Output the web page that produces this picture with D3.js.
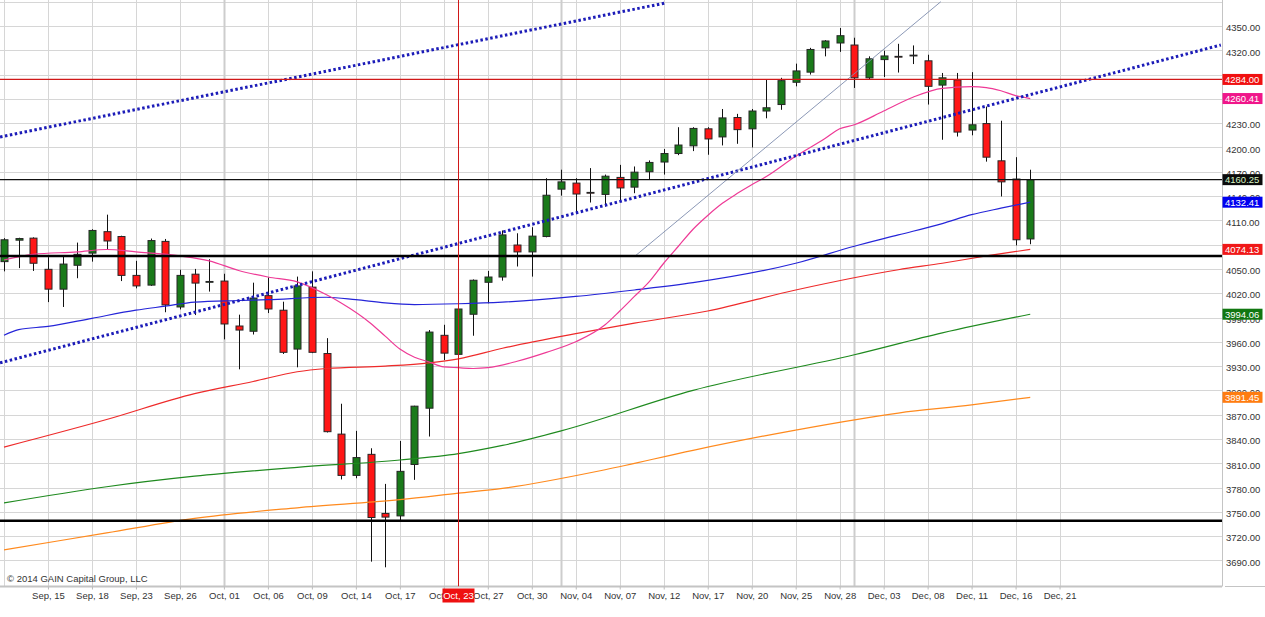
<!DOCTYPE html>
<html>
<head>
<meta charset="utf-8">
<script src="https://cdn.jsdelivr.net/npm/d3@7/dist/d3.min.js"></script>
<style>
  body { margin: 0; background: #fff; }
  svg { display: block; font-family: 'Liberation Sans', Arial, sans-serif; }
</style>
</head>
<body>
<svg id="chart" width="1265" height="617"></svg>
<script>
/* global d3: false */

// daily sessions, Sep 10 .. Dec 17 (index 0 .. 70)
const opens = [
  4059, 4085.5, 4088, 4049.5, 4025, 4054.5, 4069.5, 4096, 4090, 4042,
  4030, 4084, 4003, 4043.5, 4033.5, 4035, 3979.5, 3973, 4017, 3999,
  3951, 4027.5, 3945.5, 3846, 3795, 3821, 3748, 3745, 3808.5, 3878,
  3968, 3944.5, 3994, 4033.5, 4040, 4079.5, 4071, 4090, 4148.5, 4156,
  4144.5, 4142, 4163, 4151, 4170, 4182, 4192.5, 4202, 4223, 4213,
  4237, 4223, 4245, 4253, 4280.5, 4293, 4323, 4329, 4326.5, 4286,
  4308.5, 4312.5, 4314, 4307, 4277, 4283.5, 4221.5, 4229.5, 4183.5, 4161,
  4087];
const highs = [
  4088, 4088.5, 4089, 4064.5, 4065, 4082.5, 4099, 4117, 4091, 4060,
  4087.5, 4087, 4049, 4050, 4062, 4044, 3993.5, 4033, 4039.5, 4009.5,
  4040.5, 4047, 3964.5, 3883.5, 3850, 3828.5, 3784.5, 3837.5, 3881, 3974.5,
  3981, 4001, 4037, 4047.5, 4097.5, 4094, 4101.5, 4162, 4172.5, 4162,
  4174.5, 4166.5, 4178.5, 4176.5, 4184, 4198, 4225, 4225, 4225, 4247.5,
  4241.5, 4247.5, 4283.5, 4286, 4303.5, 4323, 4332.5, 4347.5, 4335.5, 4312.5,
  4319.5, 4328, 4326, 4314.5, 4292, 4292, 4293, 4250.5, 4233, 4188,
  4172.5];
const lows = [
  4047, 4051, 4047.5, 4009, 4003, 4038.5, 4059, 4073.5, 4035, 4026,
  4029, 3996.5, 4000, 3993, 4022, 3963, 3926, 3969, 3995.5, 3945,
  3928.5, 3946, 3848, 3790, 3791.5, 3688.5, 3681.5, 3740, 3789.5, 3843,
  3937.5, 3944, 3967.5, 4007.5, 4035.5, 4053, 4040.5, 4089, 4140.5, 4118,
  4132, 4127, 4134.5, 4143.5, 4161, 4166.5, 4190.5, 4195.5, 4191, 4202.5,
  4204.5, 4200, 4236, 4246.5, 4275.5, 4290, 4312.5, 4318, 4273.5, 4284.5,
  4287, 4292.5, 4303, 4253, 4209.5, 4213.5, 4215, 4182.5, 4139.5, 4079,
  4080.5];
const closes = [
  4086, 4087.5, 4057, 4025, 4056, 4068, 4097.5, 4084.5, 4042, 4029,
  4085, 4005.5, 4042, 4032.5, 4034.5, 3982, 3974.5, 4014, 4000.5, 3947,
  4029, 3947, 3849, 3795, 3817, 3743, 3743.5, 3800, 3880.5, 3972,
  3946, 4000.5, 4036, 4040, 4092, 4071, 4090.5, 4141, 4157.5, 4142.5,
  4144, 4164.5, 4150, 4169.5, 4181.5, 4192.5, 4203, 4223.5, 4210.5, 4236.5,
  4222, 4245, 4249, 4282.5, 4294.5, 4321, 4331.5, 4338, 4286, 4309.5,
  4313, 4312, 4313.5, 4275.5, 4286, 4219, 4228, 4188, 4157.5, 4086,
  4160.25];

// every third session from index 3; the last one is beyond the data
const tickLabels = [
  'Sep, 15', 'Sep, 18', 'Sep, 23', 'Sep, 26', 'Oct, 01', 'Oct, 06', 'Oct, 09',
  'Oct, 14', 'Oct, 17', 'Oct, 22', 'Oct, 27', 'Oct, 30', 'Nov, 04', 'Nov, 07',
  'Nov, 12', 'Nov, 17', 'Nov, 20', 'Nov, 25', 'Nov, 28', 'Dec, 03', 'Dec, 08',
  'Dec, 11', 'Dec, 16', 'Dec, 21'];
const monthStarts = [15, 38, 58];

// moving averages as [session index, value]
const maPink = [
  [0, 4061], [2, 4068], [5, 4071], [7, 4074], [9, 4071], [12, 4066], [14, 4060],
  [16, 4048], [18, 4040], [20, 4034], [22, 4018], [23, 4008], [25, 3983],
  [26, 3967], [27, 3951], [28, 3941], [29, 3935], [30, 3929], [31, 3928],
  [32, 3927], [33, 3928], [35, 3936], [37, 3947], [39, 3960], [41, 3981],
  [42, 3998], [43, 4016], [44, 4034], [45, 4057], [46, 4078], [47, 4099],
  [48, 4116], [49, 4131], [50, 4143], [51, 4154], [52, 4164], [54, 4189],
  [56, 4211], [57, 4223], [58, 4228], [60, 4245], [62, 4262], [64, 4273],
  [66, 4275], [67, 4274], [68, 4270], [69, 4264], [70, 4260.41]];
const maBlue = [
  [0, 3968], [1, 3975], [3, 3979], [6, 3989], [9, 3999], [11, 4004], [13, 4009],
  [16, 4011], [18, 4012], [22, 4015], [24, 4012], [26, 4008], [28, 4006],
  [31, 4007], [34, 4009], [39, 4016], [43, 4024], [47, 4033], [54, 4057],
  [58, 4078], [61, 4092], [64, 4106], [66, 4117], [68, 4125], [70, 4132.41]];
const maRed = [
  [0, 3830], [7, 3864], [13, 3896], [17, 3911], [20, 3923], [22, 3927],
  [26, 3930], [29, 3934], [31, 3939], [34, 3952], [39, 3970], [43, 3983],
  [48, 3998], [54, 4024], [61, 4049], [64, 4057], [67, 4066], [70, 4074.13]];
const maGreen = [
  [0, 3761], [7, 3781], [13, 3794], [20, 3805], [27, 3814], [31, 3822],
  [34, 3832], [38, 3850], [47, 3900], [58, 3944], [64, 3971], [70, 3994.06]];
const maOrange = [
  [0, 3703], [7, 3724], [13, 3742], [20, 3755], [27, 3765], [31, 3773],
  [34, 3779], [41, 3802], [47, 3826], [54, 3851], [61, 3872], [66, 3882],
  [70, 3891.45]];

// drawn trend lines, [index, value] end points
const trendUpper = [[-0.27, 4213], [45.1, 4378.4]];
const trendLower = [[-0.27, 3934], [83.0, 4326.5]];
const trendThin = [[43.0, 4065.2], [63.9, 4380]];

const resistance = 4284;
const lastClose = 4160.25;
const supportHigh = 4066;
const supportLow = 3739;
const crossIndex = 31;
const crossLabel = 'Oct, 23';

const tagValues = [4284.00, 4260.41, 4160.25, 4132.41, 4074.13, 3994.06, 3891.45];
const tagColors = ['#f01010', '#f0168a', '#0b0b0b', '#0000f0', '#f01818', '#117711', '#ff7c10'];

const plotW = 1222;
const plotH = 586.5;

const svg = d3.select('#chart');
const x = d3.scaleLinear().domain([-0.273, 83.08]).range([0, plotW]);
const y = d3.scaleLinear().domain([3657.8, 4382.1]).range([plotH, 0]);
const tickIdx = tickLabels.map((d, i) => 3 + (i * 3));
const px = v => Math.round(v) + 0.5;

svg.append('defs').append('clipPath').attr('id', 'plotClip')
  .append('rect').attr('width', plotW).attr('height', plotH);

// grid
const grid = svg.append('g');
grid.selectAll('line.h')
  .data(d3.range(3690, 4381, 30))
  .join('line')
  .attr('x1', 0).attr('x2', plotW)
  .attr('y1', d => px(y(d))).attr('y2', d => px(y(d)))
  .attr('stroke', '#d6d6d6');
grid.selectAll('line.v')
  .data([0].concat(tickIdx))
  .join('line')
  .attr('x1', d => px(x(d))).attr('x2', d => px(x(d)))
  .attr('y1', 0).attr('y2', plotH)
  .attr('stroke', '#d6d6d6');
grid.selectAll('line.m')
  .data(monthStarts)
  .join('line')
  .attr('x1', d => px(x(d))).attr('x2', d => px(x(d)))
  .attr('y1', 0).attr('y2', plotH)
  .attr('stroke', '#cdcdcd')
  .attr('stroke-width', 2);

// frame
svg.append('line').attr('x1', 0).attr('x2', plotW).attr('y1', plotH).attr('y2', plotH)
  .attr('stroke', '#c4c4c4').attr('stroke-width', 2);
svg.append('line').attr('x1', plotW + 0.5).attr('x2', plotW + 0.5).attr('y1', 0).attr('y2', plotH)
  .attr('stroke', '#c4c4c4');
svg.append('line').attr('x1', plotW + 3).attr('x2', 1265).attr('y1', plotH).attr('y2', plotH)
  .attr('stroke', '#c4c4c4');

const plot = svg.append('g').attr('clip-path', 'url(#plotClip)');

// candles
const candles = opens.map((o, i) => ({ i, o, h: highs[i], l: lows[i], c: closes[i] }));
plot.selectAll('line.wick')
  .data(candles)
  .join('line')
  .attr('x1', d => px(x(d.i))).attr('x2', d => px(x(d.i)))
  .attr('y1', d => y(d.h)).attr('y2', d => y(d.l))
  .attr('stroke', '#111');
plot.selectAll('rect.body')
  .data(candles)
  .join('rect')
  .attr('x', d => Math.round(x(d.i)) - 3)
  .attr('y', d => y(Math.max(d.o, d.c)))
  .attr('width', 7)
  .attr('height', d => Math.max(0.8, Math.abs(y(d.o) - y(d.c))))
  .attr('fill', d => (d.c >= d.o ? '#1a7a1a' : '#ff1616'))
  .attr('stroke', '#262626')
  .attr('stroke-width', 1);

// moving averages
const maLine = d3.line()
  .x(d => x(d[0]))
  .y(d => y(d[1]))
  .curve(d3.curveMonotoneX);
[[maOrange, '#ff8a1e'], [maGreen, '#1f8a1f'], [maRed, '#ee2a2a'], [maBlue, '#2525d8'],
  [maPink, '#ee3a96']].forEach(([pts, color]) => {
  plot.append('path')
    .attr('d', maLine(pts))
    .attr('fill', 'none')
    .attr('stroke', color)
    .attr('stroke-width', 1.2);
});

// trend lines
const straight = d3.line().x(d => x(d[0])).y(d => y(d[1]));
[trendUpper, trendLower].forEach((pts) => {
  plot.append('path')
    .attr('d', straight(pts))
    .attr('stroke', '#1c1cb8')
    .attr('stroke-width', 3)
    .attr('stroke-dasharray', '2.5,2.5');
});
plot.append('path')
  .attr('d', straight(trendThin))
  .attr('stroke', '#7e8cae')
  .attr('stroke-width', 0.9);

// levels
function level(value, color, width) {
  plot.append('line')
    .attr('x1', 0).attr('x2', plotW)
    .attr('y1', y(value)).attr('y2', y(value))
    .attr('stroke', color)
    .attr('stroke-width', width);
}
level(resistance, '#d01818', 1.2);
level(lastClose, '#111', 1.2);
level(supportHigh, '#000', 2.5);
level(supportLow, '#000', 2.5);

// crosshair
plot.append('line')
  .attr('x1', px(x(crossIndex))).attr('x2', px(x(crossIndex)))
  .attr('y1', 0).attr('y2', plotH)
  .attr('stroke', '#d01818');

// price axis
const yAxis = svg.append('g')
  .attr('transform', `translate(${plotW},0)`)
  .call(d3.axisRight(y)
    .tickValues(d3.range(3690, 4351, 30))
    .tickFormat(d3.format('.2f'))
    .tickSize(0)
    .tickPadding(4));
yAxis.select('.domain').remove();
yAxis.selectAll('text')
  .attr('font-size', 9.5)
  .attr('font-family', "'Liberation Sans', Arial, sans-serif")
  .attr('fill', '#333')
  .attr('dy', '0.5em');

// time axis
const xAxis = svg.append('g')
  .attr('transform', `translate(0,${plotH})`)
  .call(d3.axisBottom(x)
    .tickValues(tickIdx)
    .tickFormat((d, i) => tickLabels[i])
    .tickSize(3)
    .tickPadding(3));
xAxis.select('.domain').remove();
xAxis.selectAll('line').attr('stroke', '#bbb');
xAxis.selectAll('text')
  .attr('font-size', 9.5)
  .attr('font-family', "'Liberation Sans', Arial, sans-serif")
  .attr('fill', '#333');

// value tags on the price axis
const tags = svg.append('g');
tagValues.forEach((v, i) => {
  const ty = y(v);
  tags.append('rect')
    .attr('x', plotW + 0.5).attr('y', ty - 5.5)
    .attr('width', 40).attr('height', 11)
    .attr('fill', tagColors[i]);
  tags.append('text')
    .attr('x', plotW + 3).attr('y', ty + 3.5)
    .attr('font-size', 9.5)
    .attr('fill', i === 2 ? '#d8f4c4' : '#fff')
    .text(d3.format('.2f')(v));
});

// crosshair date tag
const cx = x(crossIndex);
svg.append('rect')
  .attr('x', cx - 16).attr('y', plotH + 2)
  .attr('width', 32).attr('height', 14)
  .attr('fill', '#ee1010');
svg.append('text')
  .attr('x', cx).attr('y', plotH + 12.5)
  .attr('text-anchor', 'middle')
  .attr('font-size', 9.5)
  .attr('fill', '#fff')
  .text(crossLabel);

svg.append('text')
  .attr('x', 7).attr('y', 582)
  .attr('font-size', 9.5)
  .attr('fill', '#333')
  .text('\u00a9 2014 GAIN Capital Group, LLC');
</script>
</body>
</html>
